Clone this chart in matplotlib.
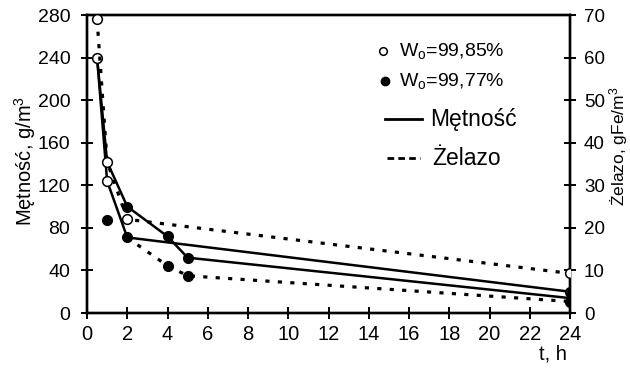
import matplotlib
matplotlib.use("Agg")
import matplotlib.pyplot as plt
from matplotlib.lines import Line2D

plt.rcParams['font.family'] = ['Liberation Sans', 'DejaVu Sans']
plt.rcParams['mathtext.fontset'] = 'custom'
plt.rcParams['mathtext.rm'] = 'Liberation Sans'
plt.rcParams['mathtext.it'] = 'Liberation Sans'

# Metnosc, g/m3 (left axis)
t_met1 = [0.5, 1, 2, 4, 5, 24]
met1 = [240, 142, 100, 72, 52, 14]
t_met2 = [0.5, 1, 2, 24]
met2 = [240, 124, 71, 20]

# Zelazo, gFe/m3 (right axis)
t_zel1 = [0.5, 1, 2, 24]
zel1 = [69, 35.5, 22, 9.3]
t_zel2 = [2, 4, 5, 24]
zel2 = [17.7, 11.1, 8.75, 2.7]

# markers: Wo=99,85% open, Wo=99,77% filled
met_open_t = [0.5, 1]
met_open = [240, 124]
met_fill_t = [2, 2, 4, 5, 24]
met_fill = [100, 71, 72, 52, 20]
zel_open_t = [0.5, 1, 2, 24]
zel_open = [69, 35.5, 22, 9.3]
zel_fill_t = [1, 4, 5, 24]
zel_fill = [21.8, 11.1, 8.75, 2.7]

x_ticks = list(range(0, 25, 2))
left_ticks = list(range(0, 281, 40))
right_ticks = list(range(0, 71, 10))

fig = plt.figure(figsize=(6.3, 3.73), dpi=100)
ax = fig.add_axes([87 / 630, 60 / 373, 483 / 630, 298 / 373])
ax2 = ax.twinx()

lw_solid = 1.8
ax.plot(t_met1, met1, color='black', lw=lw_solid, zorder=2)
ax.plot(t_met2, met2, color='black', lw=lw_solid, zorder=2)
ax2.plot(t_zel1, zel1, color='black', lw=2.3, dashes=(1.3, 2.6), zorder=2)
ax2.plot(t_zel2, zel2, color='black', lw=2.3, dashes=(1.3, 2.6), zorder=2)

ax.plot(met_fill_t, met_fill, 'o', color='black', ms=7, zorder=3)
ax2.plot(zel_fill_t, zel_fill, 'o', color='black', ms=7, zorder=3)
ax.plot(met_open_t, met_open, 'o', mfc='white', mec='black', mew=1.1, ms=7, zorder=4)
ax2.plot(zel_open_t, zel_open, 'o', mfc='white', mec='black', mew=1.1, ms=7, zorder=4)

ax.set_xlim(0, 24)
ax.set_ylim(0, 280)
ax2.set_ylim(0, 70)
ax.set_xticks(x_ticks)
ax.set_yticks(left_ticks)
ax2.set_yticks(right_ticks)

for a in (ax, ax2):
    for s in a.spines.values():
        s.set_linewidth(1.7)
ax.tick_params(axis='y', direction='inout', length=8, width=1.4, labelsize=14, pad=8)
ax.tick_params(axis='x', direction='inout', length=8, width=1.4, labelsize=14.5, pad=5)
ax2.tick_params(axis='y', direction='inout', length=8, width=1.4, labelsize=13.5, pad=6)

ax.set_ylabel('Mętność, g/m$^3$', fontsize=14.5)
ax.yaxis.set_label_coords(-0.102, 0.51)
ax2.set_ylabel('Żelazo, gFe/m$^3$', fontsize=12.5)
ax2.yaxis.set_label_coords(1.077, 0.56)
ax.set_xlabel('t, h', fontsize=14.5)
ax.xaxis.set_label_coords(0.965, -0.105)

# legend drawn by hand
tr = ax.transAxes
ax.add_line(Line2D([0.613], [0.879], marker='o', mfc='white', mec='black', mew=1.1, ms=5.5,
                   transform=tr, clip_on=False))
ax.add_line(Line2D([0.617], [0.780], marker='o', color='black', ms=6,
                   transform=tr, clip_on=False))
ax.add_line(Line2D([0.617, 0.694], [0.651, 0.651], color='black', lw=2,
                   transform=tr, clip_on=False))
ax.add_line(Line2D([0.621, 0.689], [0.520, 0.520], color='black', lw=2, dashes=(2.4, 1.5),
                   transform=tr, clip_on=False))
ax.text(0.645, 0.879, 'W$_\\mathrm{o}$=99,85%', transform=tr, fontsize=14, va='center')
ax.text(0.645, 0.780, 'W$_\\mathrm{o}$=99,77%', transform=tr, fontsize=14, va='center')
ax.text(0.710, 0.651, 'Mętność', transform=tr, fontsize=16.5, va='center')
ax.text(0.714, 0.520, 'Żelazo', transform=tr, fontsize=16.5, va='center')

fig.savefig('out.png', dpi=100)
